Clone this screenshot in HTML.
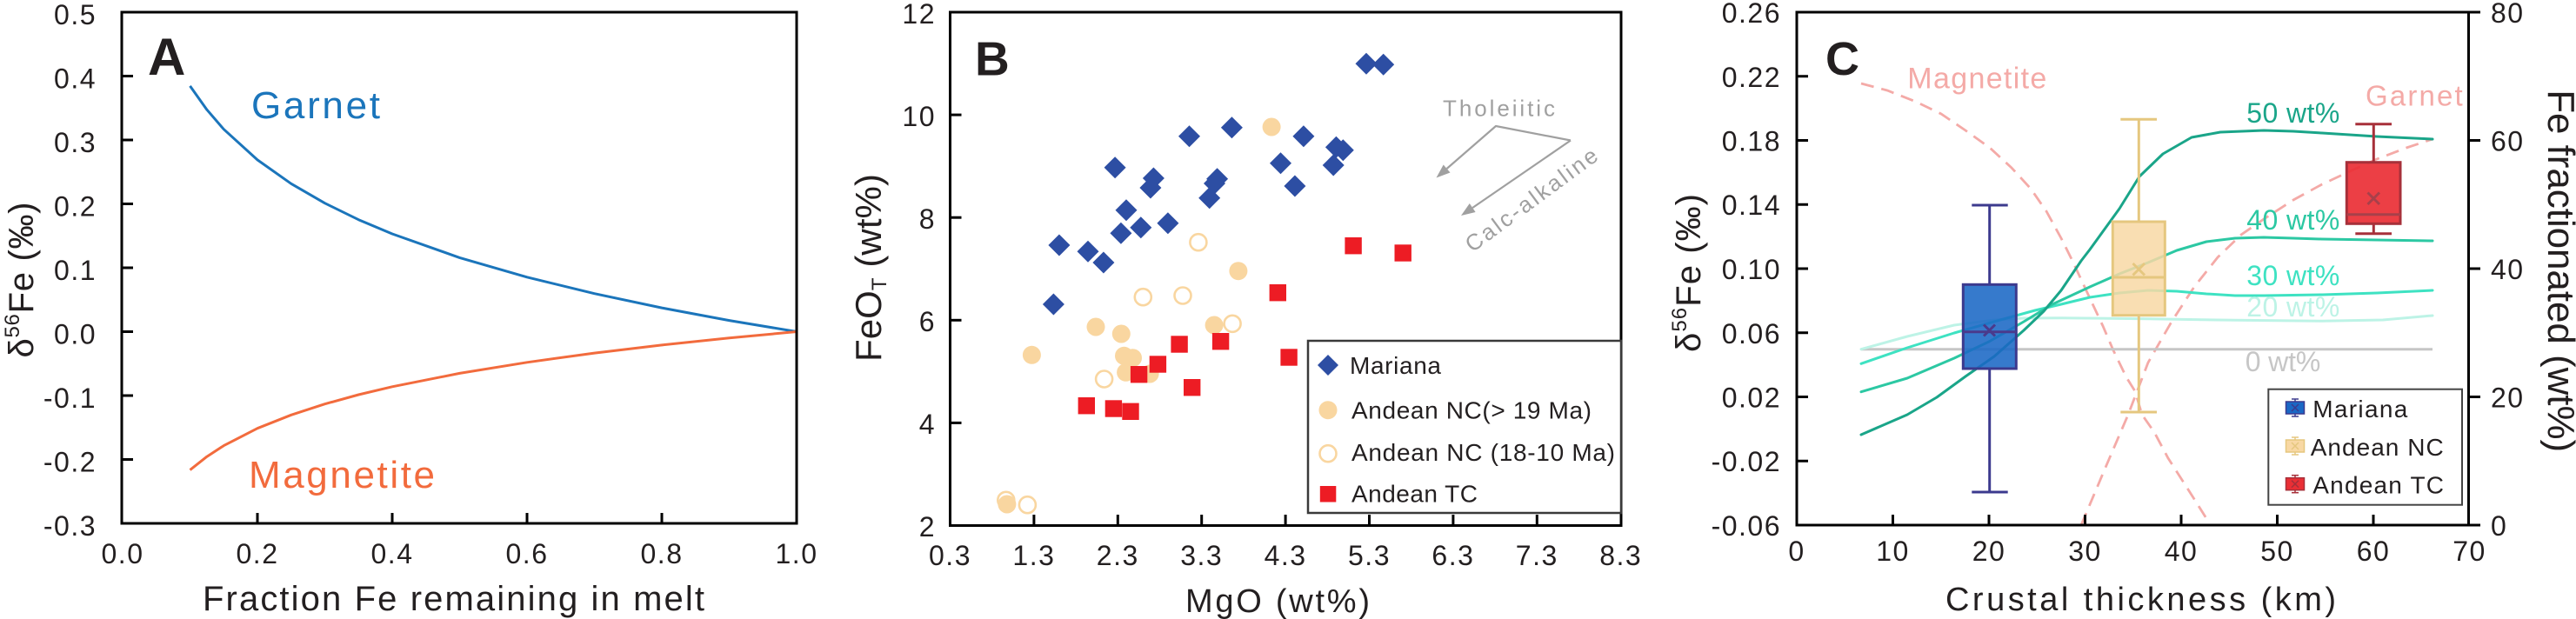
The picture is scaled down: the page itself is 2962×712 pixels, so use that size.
<!DOCTYPE html>
<html><head><meta charset="utf-8">
<style>
html,body{margin:0;padding:0;background:#fff;}
svg{display:block;}
text{font-family:"Liberation Sans",Arial,sans-serif;fill:#231f20;}
.tk{font-size:32px;letter-spacing:1.5px;}
</style></head>
<body>
<svg xmlns="http://www.w3.org/2000/svg" width="2962" height="712" viewBox="0 0 2962 712">
<rect x="0" y="0" width="2962" height="712" fill="#fff"/>

<!-- ================= PANEL A ================= -->
<g>
<polyline fill="none" stroke="#1b75bb" stroke-width="3" stroke-linejoin="round"
 points="218.5,98.9 237.9,126.2 257.3,148.7 296,183.9 334.8,211.3 373.5,233.7 412.3,252.7 451,269 528.5,296.4 606,318.8 683.5,337.7 761,354.1 838.5,368.6 916,381.5"/>
<polyline fill="none" stroke="#f26b3d" stroke-width="3" stroke-linejoin="round"
 points="218.5,540.6 237.9,525.2 257.3,512.6 296,492.7 334.8,477.3 373.5,464.7 412.3,454 451,444.8 528.5,429.4 606,416.8 683.5,406.1 761,396.9 838.5,388.8 916,381.5"/>
<rect x="140" y="14" width="776" height="588" fill="none" stroke="#000" stroke-width="3"/>
<g stroke="#000" stroke-width="3">
<line x1="140" y1="87.5" x2="153" y2="87.5"/><line x1="140" y1="161" x2="153" y2="161"/>
<line x1="140" y1="234.5" x2="153" y2="234.5"/><line x1="140" y1="308" x2="153" y2="308"/>
<line x1="140" y1="381.5" x2="153" y2="381.5"/><line x1="140" y1="455" x2="153" y2="455"/>
<line x1="140" y1="528.5" x2="153" y2="528.5"/>
<line x1="296" y1="602" x2="296" y2="590"/><line x1="451" y1="602" x2="451" y2="590"/>
<line x1="606" y1="602" x2="606" y2="590"/><line x1="761" y1="602" x2="761" y2="590"/>
</g>
<g class="tk" text-anchor="end">
<text x="111" y="28">0.5</text><text x="111" y="101.5">0.4</text><text x="111" y="175">0.3</text>
<text x="111" y="248.5">0.2</text><text x="111" y="322">0.1</text><text x="111" y="395.5">0.0</text>
<text x="111" y="469">-0.1</text><text x="111" y="542.5">-0.2</text><text x="111" y="616">-0.3</text>
</g>
<g class="tk" text-anchor="middle">
<text x="141" y="648">0.0</text><text x="296" y="648">0.2</text><text x="451" y="648">0.4</text>
<text x="606" y="648">0.6</text><text x="761" y="648">0.8</text><text x="916" y="648">1.0</text>
</g>
<text x="233" y="702" font-size="40" textLength="577">Fraction Fe remaining in melt</text>
<text transform="translate(38,322) rotate(-90)" text-anchor="middle" font-size="40" textLength="179">δ<tspan font-size="24" dy="-16">56</tspan><tspan dy="16">Fe (‰)</tspan></text>
<text x="170" y="86" font-size="60" font-weight="bold" textLength="42">A</text>
<text x="289" y="136" font-size="44" fill="#1b75bb" style="fill:#1b75bb" textLength="148">Garnet</text>
<text x="286" y="561" font-size="44" style="fill:#f26b3d" textLength="214">Magnetite</text>
</g>

<!-- ================= PANEL B ================= -->
<g>
<rect x="1092.5" y="14" width="771.5" height="590.5" fill="none" stroke="#000" stroke-width="3"/>
<g stroke="#000" stroke-width="3">
<line x1="1092.5" y1="486.4" x2="1105.5" y2="486.4"/><line x1="1092.5" y1="368.3" x2="1105.5" y2="368.3"/>
<line x1="1092.5" y1="250.2" x2="1105.5" y2="250.2"/><line x1="1092.5" y1="132.1" x2="1105.5" y2="132.1"/>
<line x1="1188.9" y1="604.5" x2="1188.9" y2="592"/><line x1="1285.3" y1="604.5" x2="1285.3" y2="592"/>
<line x1="1381.7" y1="604.5" x2="1381.7" y2="592"/><line x1="1478.1" y1="604.5" x2="1478.1" y2="592"/>
<line x1="1574.5" y1="604.5" x2="1574.5" y2="592"/><line x1="1670.9" y1="604.5" x2="1670.9" y2="592"/>
<line x1="1767.3" y1="604.5" x2="1767.3" y2="592"/>
</g>
<g class="tk" text-anchor="end">
<text x="1076" y="27">12</text><text x="1076" y="145">10</text><text x="1076" y="263">8</text>
<text x="1076" y="381">6</text><text x="1076" y="499">4</text><text x="1076" y="617">2</text>
</g>
<g class="tk" text-anchor="middle">
<text x="1092.5" y="650">0.3</text><text x="1188.9" y="650">1.3</text><text x="1285.3" y="650">2.3</text>
<text x="1381.7" y="650">3.3</text><text x="1478.1" y="650">4.3</text><text x="1574.5" y="650">5.3</text>
<text x="1670.9" y="650">6.3</text><text x="1767.3" y="650">7.3</text><text x="1863.7" y="650">8.3</text>
</g>
<text x="1363" y="704" font-size="38" textLength="212">MgO (wt%)</text>
<text transform="translate(1013,308) rotate(-90)" text-anchor="middle" font-size="42" textLength="216">FeO<tspan font-size="24" dy="6">T</tspan><tspan dy="-6"> (wt%)</tspan></text>
<text x="1121" y="86.5" font-size="55" font-weight="bold" textLength="37">B</text>

<!-- arrows -->
<g stroke="#a0a0a0" stroke-width="2.2" fill="none" stroke-linejoin="round">
<polyline points="1806,161.5 1720,145 1663.6,194"/>
<polyline points="1806,161.5 1693.2,239"/>
</g>
<polygon points="1651.5,204.5 1667.5,198.5 1659.7,189.5" fill="#a0a0a0"/>
<polygon points="1680,248 1696.6,244 1689.8,234" fill="#a0a0a0"/>
<text x="1659" y="133.5" font-size="26" style="fill:#a0a0a0" textLength="129">Tholeiitic</text>
<text transform="translate(1693,291) rotate(-36.5)" font-size="26" style="fill:#a0a0a0" textLength="182">Calc-alkaline</text>

<!-- Mariana diamonds -->
<g fill="#2d4ea3">
<path d="M1571,60.8l12.5,12.5l-12.5,12.5l-12.5,-12.5z"/>
<path d="M1590.7,61.8l12.5,12.5l-12.5,12.5l-12.5,-12.5z"/>
<path d="M1367.5,144.2l12.5,12.5l-12.5,12.5l-12.5,-12.5z"/>
<path d="M1416.4,134.2l12.5,12.5l-12.5,12.5l-12.5,-12.5z"/>
<path d="M1498.9,144.2l12.5,12.5l-12.5,12.5l-12.5,-12.5z"/>
<path d="M1536.4,156.8l12.5,12.5l-12.5,12.5l-12.5,-12.5z"/>
<path d="M1544.3,160.2l12.5,12.5l-12.5,12.5l-12.5,-12.5z"/>
<path d="M1472.5,175.2l12.5,12.5l-12.5,12.5l-12.5,-12.5z"/>
<path d="M1533.2,177.5l12.5,12.5l-12.5,12.5l-12.5,-12.5z"/>
<path d="M1488.9,201.5l12.5,12.5l-12.5,12.5l-12.5,-12.5z"/>
<path d="M1282.1,180.2l12.5,12.5l-12.5,12.5l-12.5,-12.5z"/>
<path d="M1326.4,192.5l12.5,12.5l-12.5,12.5l-12.5,-12.5z"/>
<path d="M1322.9,203.5l12.5,12.5l-12.5,12.5l-12.5,-12.5z"/>
<path d="M1399.6,193.2l12.5,12.5l-12.5,12.5l-12.5,-12.5z"/>
<path d="M1396.5,198.5l12.5,12.5l-12.5,12.5l-12.5,-12.5z"/>
<path d="M1390.7,215.2l12.5,12.5l-12.5,12.5l-12.5,-12.5z"/>
<path d="M1295,229.2l12.5,12.5l-12.5,12.5l-12.5,-12.5z"/>
<path d="M1311.8,249.2l12.5,12.5l-12.5,12.5l-12.5,-12.5z"/>
<path d="M1342.9,244.2l12.5,12.5l-12.5,12.5l-12.5,-12.5z"/>
<path d="M1288.9,255.8l12.5,12.5l-12.5,12.5l-12.5,-12.5z"/>
<path d="M1217.9,269.5l12.5,12.5l-12.5,12.5l-12.5,-12.5z"/>
<path d="M1251,276.8l12.5,12.5l-12.5,12.5l-12.5,-12.5z"/>
<path d="M1268.9,289.5l12.5,12.5l-12.5,12.5l-12.5,-12.5z"/>
<path d="M1211.4,337.5l12.5,12.5l-12.5,12.5l-12.5,-12.5z"/>
</g>
<!-- open circles -->
<g fill="none" stroke="#f9d6a0" stroke-width="2.6">
<circle cx="1377.9" cy="278.7" r="9.5"/><circle cx="1314.3" cy="341.7" r="9.5"/>
<circle cx="1360" cy="340" r="9.5"/><circle cx="1417.1" cy="372.3" r="9.5"/>
<circle cx="1269.6" cy="436" r="9.5"/><circle cx="1156.8" cy="575.3" r="9.5"/>
<circle cx="1181.4" cy="580.7" r="9.5"/>
</g>
<!-- filled circles -->
<g fill="#f9d6a0">
<circle cx="1462.1" cy="146" r="10.5"/><circle cx="1423.9" cy="311.7" r="10.5"/>
<circle cx="1260" cy="376" r="10.5"/><circle cx="1289.3" cy="384" r="10.5"/>
<circle cx="1186.4" cy="408.3" r="10.5"/><circle cx="1292.5" cy="409.3" r="10.5"/>
<circle cx="1302.5" cy="411.7" r="10.5"/><circle cx="1294.6" cy="428.3" r="10.5"/>
<circle cx="1322.1" cy="430" r="10.5"/><circle cx="1396.1" cy="374" r="10.5"/>
<circle cx="1157.9" cy="580" r="10.5"/>
</g>
<!-- squares -->
<g fill="#ed1c24">
<rect x="1459.6" y="327" width="19.4" height="19.4"/><rect x="1346.4" y="386.3" width="19.4" height="19.4"/>
<rect x="1393.9" y="383" width="19.4" height="19.4"/><rect x="1321.7" y="409.3" width="19.4" height="19.4"/>
<rect x="1299.9" y="421" width="19.4" height="19.4"/><rect x="1472.4" y="401.3" width="19.4" height="19.4"/>
<rect x="1361" y="436" width="19.4" height="19.4"/><rect x="1239.6" y="457" width="19.4" height="19.4"/>
<rect x="1270.7" y="460.3" width="19.4" height="19.4"/><rect x="1290.3" y="463.6" width="19.4" height="19.4"/>
<rect x="1546.4" y="273" width="19.4" height="19.4"/><rect x="1603.5" y="281.3" width="19.4" height="19.4"/>
</g>
<!-- legend B -->
<rect x="1504" y="392" width="360" height="198" fill="#fff" stroke="#3a3a3a" stroke-width="2.5"/>
<path d="M1527,408l12,12l-12,12l-12,-12z" fill="#2d4ea3"/>
<circle cx="1527" cy="471.7" r="10.5" fill="#f9d6a0"/>
<circle cx="1527" cy="521.7" r="9.5" fill="none" stroke="#f9d6a0" stroke-width="2.6"/>
<rect x="1517.8" y="559" width="18.5" height="18.5" fill="#ed1c24"/>
<text x="1552" y="430" font-size="28" textLength="105">Mariana</text>
<text x="1554" y="481.7" font-size="28" textLength="276">Andean NC(&gt; 19 Ma)</text>
<text x="1554" y="530" font-size="28" textLength="303">Andean NC (18-10 Ma)</text>
<text x="1554" y="577.3" font-size="28" textLength="145">Andean TC</text>
</g>

<!-- ================= PANEL C ================= -->
<g>
<!-- dashed model curves -->
<g fill="none" stroke="#f4aaa7" stroke-width="2.8" stroke-dasharray="15,9">
<polyline points="2140,96 2170,104 2203,117 2232,131 2260,150 2288,170 2313,193 2335,217 2353,243 2370,274 2383,300 2403,343 2418,375 2430,403 2445,434 2455,450 2463,477 2477,497 2493,527 2516,563 2540,601"/>
<polyline points="2393,604 2420,540 2447,477 2470,417 2497,370 2523,330 2550,296 2577,270 2603,252 2637,230 2670,212 2700,198 2733,183 2767,170 2797,160"/>
</g>
<!-- 0 wt% -->
<line x1="2140" y1="401.7" x2="2797" y2="401.7" stroke="#c6c6c6" stroke-width="3"/>
<!-- green curves -->
<g fill="none" stroke-width="3" stroke-linejoin="round" stroke-linecap="round">
<polyline stroke="#bdf3e6" points="2140,401.7 2193,387 2247,374 2293,368 2327,366 2370,365.7 2470,366.7 2570,368.3 2670,369.3 2740,368 2797,363"/>
<polyline stroke="#3ee2c2" points="2140,418.3 2193,400 2247,383 2300,368 2340,357 2370,350 2403,342 2437,337 2470,334 2503,335 2537,338 2570,340 2603,340 2670,339 2733,337 2797,334"/>
<polyline stroke="#2cc8a3" points="2140,450.7 2193,435 2247,412 2287,393 2327,370 2360,350 2403,330 2437,315 2470,302 2503,288 2537,278 2570,274 2603,273 2637,274 2670,275 2733,276 2797,277"/>
<polyline stroke="#1aa589" points="2140,500 2193,477 2227,457 2260,433 2293,410 2327,380 2350,358 2370,334 2393,300 2403,287 2437,240 2460,203 2487,177 2520,158 2553,152 2603,150 2637,151 2670,153 2733,157 2797,160"/>
</g>
<!-- Mariana box -->
<g stroke="#3c3a8e" stroke-width="3">
<line x1="2287.7" y1="236" x2="2287.7" y2="327"/><line x1="2287.7" y1="424" x2="2287.7" y2="566"/>
<line x1="2267.3" y1="236" x2="2308.7" y2="236"/><line x1="2267.3" y1="566" x2="2308.7" y2="566"/>
<rect x="2257.3" y="327.3" width="61" height="96.7" fill="#1a68c5" fill-opacity="0.88"/>
<line x1="2257.3" y1="381.7" x2="2318.3" y2="381.7" stroke="#4a3a8c"/>
<path d="M2281,373.5l13,13M2294,373.5l-13,13" stroke="#4a3a8c"/>
</g>
<!-- NC box -->
<g stroke="#e5c77f" stroke-width="3">
<line x1="2459.3" y1="137.3" x2="2459.3" y2="255"/><line x1="2459.3" y1="362.7" x2="2459.3" y2="474"/>
<line x1="2438.3" y1="137.3" x2="2480" y2="137.3"/><line x1="2438.3" y1="474" x2="2480" y2="474"/>
<rect x="2429.3" y="255" width="60" height="107.7" fill="#f8d8a4" fill-opacity="0.85"/>
<line x1="2429.3" y1="319" x2="2489.3" y2="319"/>
<path d="M2452.5,303l13.5,13.5M2466,303l-13.5,13.5"/>
</g>
<!-- TC box -->
<g stroke="#a7303a" stroke-width="3">
<line x1="2729.3" y1="142.7" x2="2729.3" y2="186.7"/><line x1="2729.3" y1="257.3" x2="2729.3" y2="268.7"/>
<line x1="2708.3" y1="142.7" x2="2750" y2="142.7"/><line x1="2708.3" y1="268.7" x2="2750" y2="268.7"/>
<rect x="2698.3" y="186.7" width="61.7" height="70.6" fill="#ea2f35" fill-opacity="0.92"/>
<line x1="2698.3" y1="246.7" x2="2760" y2="246.7" stroke="#a8404a"/>
<path d="M2722.5,221.5l13.5,13.5M2736,221.5l-13.5,13.5" stroke="#a8404a"/>
</g>
<!-- frame -->
<rect x="2066" y="14" width="772.5" height="590" fill="none" stroke="#000" stroke-width="3"/>
<g stroke="#000" stroke-width="3">
<line x1="2066" y1="87.75" x2="2079" y2="87.75"/><line x1="2066" y1="161.5" x2="2079" y2="161.5"/>
<line x1="2066" y1="235.25" x2="2079" y2="235.25"/><line x1="2066" y1="309" x2="2079" y2="309"/>
<line x1="2066" y1="382.75" x2="2079" y2="382.75"/><line x1="2066" y1="456.5" x2="2079" y2="456.5"/>
<line x1="2066" y1="530.25" x2="2079" y2="530.25"/>
<line x1="2176.5" y1="604" x2="2176.5" y2="592"/><line x1="2287" y1="604" x2="2287" y2="592"/>
<line x1="2397.5" y1="604" x2="2397.5" y2="592"/><line x1="2508" y1="604" x2="2508" y2="592"/>
<line x1="2618.5" y1="604" x2="2618.5" y2="592"/><line x1="2729" y1="604" x2="2729" y2="592"/>
<line x1="2838.5" y1="14" x2="2852" y2="14"/><line x1="2838.5" y1="161.5" x2="2852" y2="161.5"/>
<line x1="2838.5" y1="309" x2="2852" y2="309"/><line x1="2838.5" y1="456.5" x2="2852" y2="456.5"/>
<line x1="2838.5" y1="604" x2="2852" y2="604"/>
</g>
<g class="tk" text-anchor="end">
<text x="2048" y="26">0.26</text><text x="2048" y="100">0.22</text><text x="2048" y="173.5">0.18</text>
<text x="2048" y="247">0.14</text><text x="2048" y="321">0.10</text><text x="2048" y="395">0.06</text>
<text x="2048" y="468.5">0.02</text><text x="2048" y="542">-0.02</text><text x="2048" y="616">-0.06</text>
</g>
<g class="tk">
<text x="2864" y="26">80</text><text x="2864" y="173.5">60</text><text x="2864" y="321">40</text>
<text x="2864" y="468.5">20</text><text x="2864" y="616">0</text>
</g>
<g class="tk" text-anchor="middle">
<text x="2066" y="645">0</text><text x="2176.5" y="645">10</text><text x="2287" y="645">20</text>
<text x="2397.5" y="645">30</text><text x="2508" y="645">40</text><text x="2618.5" y="645">50</text>
<text x="2729" y="645">60</text><text x="2839.5" y="645">70</text>
</g>
<text x="2237" y="702" font-size="38" textLength="449">Crustal thickness (km)</text>
<text transform="translate(1955,314) rotate(-90)" text-anchor="middle" font-size="40" textLength="182">δ<tspan font-size="24" dy="-16">56</tspan><tspan dy="16">Fe (‰)</tspan></text>
<text transform="translate(2930,311.7) rotate(90)" text-anchor="middle" font-size="44" textLength="417">Fe fractionated (wt%)</text>
<text x="2099" y="86" font-size="54" font-weight="bold" textLength="36">C</text>
<text x="2193.3" y="101.7" font-size="34" style="fill:#f4aaa7" textLength="160">Magnetite</text>
<text x="2720" y="121.7" font-size="33" style="fill:#f4aaa7" textLength="111.7">Garnet</text>
<text x="2583.3" y="141" font-size="32" style="fill:#1aa589" textLength="107">50 wt%</text>
<text x="2583.3" y="264" font-size="32" style="fill:#2cc8a3" textLength="107">40 wt%</text>
<text x="2583.3" y="328" font-size="32" style="fill:#3ee2c2" textLength="107">30 wt%</text>
<text x="2583.3" y="364" font-size="32" style="fill:#bdf3e6" textLength="107">20 wt%</text>
<text x="2581.7" y="427" font-size="32" style="fill:#c6c6c6" textLength="86.6">0 wt%</text>

<!-- legend C -->
<rect x="2608.3" y="447.7" width="222.7" height="133" fill="#fff" stroke="#444" stroke-width="2"/>
<g stroke="#3c3a8e" stroke-width="1.5">
<line x1="2639" y1="459" x2="2639" y2="479"/><line x1="2635" y1="459" x2="2643" y2="459"/><line x1="2635" y1="479" x2="2643" y2="479"/>
<rect x="2628.5" y="462" width="21" height="14" fill="#1a68c5"/>
<path d="M2635,465l8,8M2643,465l-8,8"/>
</g>
<g stroke="#e5c77f" stroke-width="1.5">
<line x1="2639" y1="503" x2="2639" y2="523"/><line x1="2635" y1="503" x2="2643" y2="503"/><line x1="2635" y1="523" x2="2643" y2="523"/>
<rect x="2628.5" y="506" width="21" height="14" fill="#f8d8a4"/>
<path d="M2635,509l8,8M2643,509l-8,8"/>
</g>
<g stroke="#a7303a" stroke-width="1.5">
<line x1="2639" y1="546.7" x2="2639" y2="566.7"/><line x1="2635" y1="546.7" x2="2643" y2="546.7"/><line x1="2635" y1="566.7" x2="2643" y2="566.7"/>
<rect x="2628.5" y="549.7" width="21" height="14" fill="#ea2f35"/>
<path d="M2635,552.7l8,8M2643,552.7l-8,8"/>
</g>
<text x="2659.3" y="480" font-size="28" textLength="109">Mariana</text>
<text x="2656.7" y="524" font-size="28" textLength="153">Andean NC</text>
<text x="2659.3" y="567.3" font-size="28" textLength="150.7">Andean TC</text>
</g>
</svg>
</body></html>
